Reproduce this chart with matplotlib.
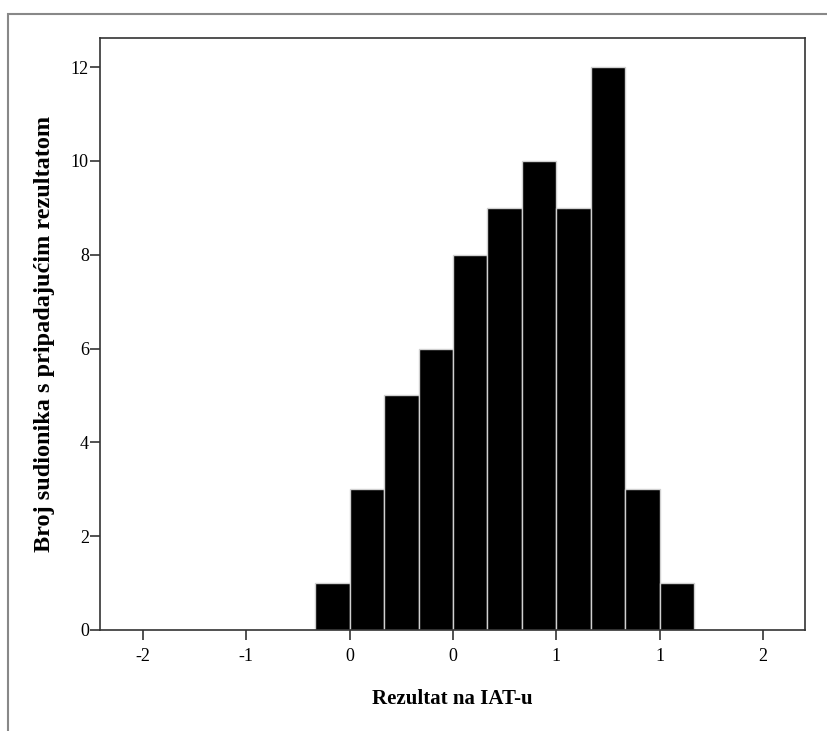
import numpy as np
import matplotlib.pyplot as plt
from matplotlib.patches import Rectangle

# histogram of IAT scores (bin width 1/6)
bin_edges = np.array([-4, -3, -2, -1, 0, 1, 2, 3, 4, 5, 6, 7]) / 6.0
counts = [1, 3, 5, 6, 8, 9, 10, 9, 12, 3, 1]
tick_pos = [-1.5, -1.0, -0.5, 0.0, 0.5, 1.0, 1.5]
tick_labels = ["-2", "-1", "0", "0", "1", "1", "2"]
y_ticks = [0, 2, 4, 6, 8, 10, 12]

plt.rcParams['font.family'] = ['Liberation Serif', 'DejaVu Serif']

fig = plt.figure(figsize=(8.28, 7.31), dpi=100)
# outer frame, open at right and bottom
fig.patches.append(Rectangle((8 / 828, -0.1), 1.2, 1.1 - 14 / 731, transform=fig.transFigure,
                             fill=False, edgecolor='#888888', linewidth=1.5))

ax = fig.add_axes([100 / 828, 101 / 731, 705 / 828, 592 / 731])
widths = np.diff(bin_edges)
ax.bar(bin_edges[:-1], counts, width=widths, align='edge', color='black',
       edgecolor='#d0d0d0', linewidth=1.0)

ax.set_xlim(-1.708, 1.703)
ax.set_ylim(0, 12.62)
ax.set_xticks(tick_pos)
ax.set_xticklabels(tick_labels)
ax.set_yticks(y_ticks)
ax.tick_params(direction='out', length=7, width=1.2, labelsize=13, color='#333333')
ax.tick_params(axis='x', pad=6)
ax.tick_params(axis='y', pad=1)
for s in ax.spines.values():
    s.set_color('#333333')
    s.set_linewidth(1.2)

ax.set_xlabel("Rezultat na IAT-u", fontsize=15, fontweight='bold', labelpad=17)
ax.set_ylabel("Broj sudionika s pripadajućim rezultatom", fontsize=17.5, fontweight='bold', labelpad=11)

fig.savefig("out.png", dpi=100)
